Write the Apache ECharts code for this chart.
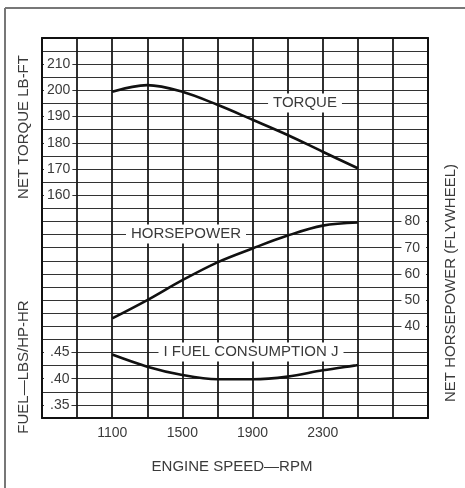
<!DOCTYPE html>
<html>
<head>
<meta charset="utf-8">
<script src="https://cdn.jsdelivr.net/npm/echarts@6/dist/echarts.min.js"></script>
<style>
  html, body { margin: 0; padding: 0; background: #fff; }
  #chart { width: 465px; height: 488px; }
</style>
</head>
<body>
<div id="chart"></div>
<script>
// values
const rpm = [1100, 1300, 1500, 1700, 1900, 2100, 2300, 2500];
const torque = [199.5, 202, 199.5, 194.5, 188.8, 183, 176.6, 170.3];
const horsepower = [43, 50, 57.6, 64.4, 69.7, 74.6, 78.4, 79.6];
const fuel = [0.446, 0.423, 0.407, 0.399, 0.399, 0.404, 0.416, 0.426];

const rpmTicks = [1100, 1500, 1900, 2300];
const torqueTicks = [160, 170, 180, 190, 200, 210];
const hpTicks = [40, 50, 60, 70, 80];
const fuelTicks = [0.35, 0.4, 0.45];

const FONT = "Liberation Sans";
const TXT = "#3a3a3a";

const pairs = (ys) => rpm.map((r, i) => [r, ys[i]]);

const tickLabel = (extra) => ({
  inside: true,
  fontFamily: FONT,
  fontSize: 14,
  color: TXT,
  backgroundColor: "#fff",
  ...extra,
});

const curve = (name, yIndex, ys) => ({
  name,
  type: "line",
  xAxisIndex: 0,
  yAxisIndex: yIndex,
  data: pairs(ys),
  smooth: 0.35,
  showSymbol: false,
  lineStyle: { color: "#111", width: 2.6 },
  z: 4,
});

const title = (text, x, y, rotated) => ({
  type: "text",
  x,
  y,
  rotation: rotated ? Math.PI / 2 : 0,
  z: 10,
  style: {
    text,
    font: `15px "${FONT}"`,
    fill: TXT,
    align: "center",
    verticalAlign: "middle",
  },
});

const note = (text, x, y) => ({
  type: "text",
  x,
  y,
  z: 10,
  style: {
    text,
    font: `15px "${FONT}"`,
    fill: TXT,
    align: "center",
    verticalAlign: "middle",
    backgroundColor: "#fff",
    padding: [2, 5],
  },
});

const option = {
  backgroundColor: "#fff",
  animation: false,
  grid: { left: 42, top: 38, width: 386, height: 380 },
  xAxis: [
    {
      // engine speed
      type: "value",
      min: 700,
      max: 2900,
      position: "bottom",
      axisLine: { show: true, lineStyle: { color: "#111", width: 2 } },
      axisTick: { show: false },
      splitLine: { show: false },
      axisLabel: {
        customValues: rpmTicks,
        formatter: (v) => String(v),
        margin: 8,
        fontFamily: FONT,
        fontSize: 14,
        color: TXT,
      },
    },
    {
      // vertical grid lines, one per 200 rpm
      type: "value",
      min: 0,
      max: 11,
      interval: 1,
      position: "top",
      axisLine: { show: true, lineStyle: { color: "#111", width: 2 } },
      axisTick: { show: false },
      axisLabel: { show: false },
      splitLine: { show: true, lineStyle: { color: "#1a1a1a", width: 1.8 } },
    },
  ],
  yAxis: [
    {
      // torque
      type: "value",
      min: 75,
      max: 220,
      position: "left",
      z: 3,
      axisLine: { show: true, lineStyle: { color: "#111", width: 2 } },
      axisTick: { show: false },
      splitLine: { show: false },
      axisLabel: tickLabel({ customValues: torqueTicks, margin: 2, padding: [1, 2, 1, 3] }),
    },
    {
      // horsepower
      type: "value",
      min: 5,
      max: 150,
      position: "right",
      z: 3,
      axisLine: { show: true, lineStyle: { color: "#111", width: 2 } },
      axisTick: { show: false },
      splitLine: { show: false },
      axisLabel: tickLabel({ customValues: hpTicks, margin: 2, padding: [1, 6, 1, 3] }),
    },
    {
      // fuel consumption
      type: "value",
      min: 0.325,
      max: 1.05,
      position: "left",
      z: 3,
      axisLine: { show: false },
      axisTick: { show: false },
      splitLine: { show: false },
      axisLabel: tickLabel({
        customValues: fuelTicks,
        margin: 2,
        padding: [1, 2, 1, 6],
        formatter: (v) => "." + Math.round(v * 100),
      }),
    },
    {
      // horizontal grid lines, 29 rows
      type: "value",
      min: 0,
      max: 29,
      interval: 1,
      position: "left",
      z: 0,
      axisLine: { show: false },
      axisTick: { show: false },
      axisLabel: { show: false },
      splitLine: { show: true, lineStyle: { color: "#333", width: 1.2 } },
    },
  ],
  graphic: [
    // outer frame of the page
    { type: "line", z: 1, shape: { x1: 5, y1: 8, x2: 465, y2: 8 }, style: { stroke: "#777", lineWidth: 2 } },
    { type: "line", z: 1, shape: { x1: 5, y1: 8, x2: 5, y2: 488 }, style: { stroke: "#777", lineWidth: 2 } },
    title("NET TORQUE LB-FT", 24, 127, true),
    title("FUEL\u2014LBS/HP-HR", 24, 367, true),
    title("NET HORSEPOWER (FLYWHEEL)", 451, 283, true),
    title("ENGINE SPEED\u2014RPM", 232, 467, false),
    note("TORQUE", 305, 103),
    note("HORSEPOWER", 186, 234),
    note("I FUEL CONSUMPTION J", 251, 352),
  ],
  series: [
    curve("torque", 0, torque),
    curve("horsepower", 1, horsepower),
    curve("fuel", 2, fuel),
  ],
};

const myChart = echarts.init(document.getElementById("chart"));
myChart.setOption(option);
window.addEventListener("resize", () => {
  myChart.resize();
});
</script>
</body>
</html>
